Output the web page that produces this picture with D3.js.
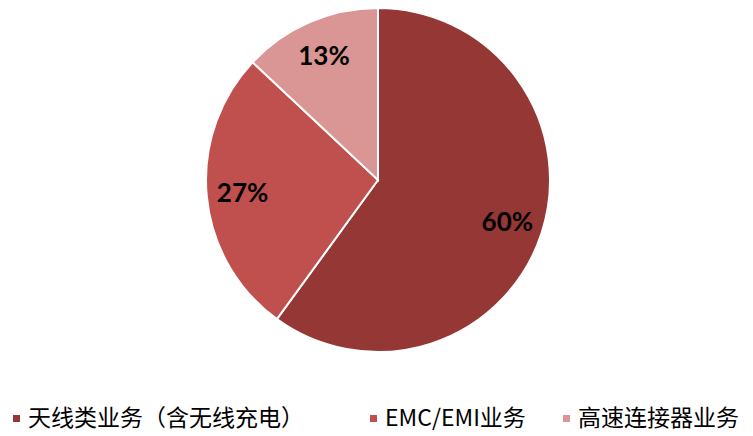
<!DOCTYPE html>
<html>
<head>
<meta charset="utf-8">
<script src="https://d3js.org/d3.v7.min.js"></script>
<style>
  body { margin: 0; background: #fff; }
</style>
</head>
<body>
<div id="chart"></div>
<script>
var categories = ["天线类业务（含无线充电）", "EMC/EMI业务", "高速连接器业务"];
var values = [60, 27, 13];
var colors = ["#953735", "#C0504D", "#D99694"];

var width = 753, height = 436;
var cx = 378, cy = 180, radius = 172;

var svg = d3.select("#chart")
    .append("svg")
    .attr("width", width)
    .attr("height", height);

var g = svg.append("g")
    .attr("transform", "translate(" + cx + "," + cy + ")");

var pie = d3.pie().sort(null).value(function (d) { return d; });
var arc = d3.arc().innerRadius(0).outerRadius(radius);
var labelArc = d3.arc().innerRadius(136).outerRadius(136);

var arcs = pie(values);

g.selectAll("path.slice")
    .data(arcs)
    .enter()
    .append("path")
    .attr("class", "slice")
    .attr("d", arc)
    .attr("fill", function (d, i) { return colors[i]; })
    .attr("stroke", "#fff")
    .attr("stroke-width", 2);

g.selectAll("text.pct")
    .data(arcs)
    .enter()
    .append("text")
    .attr("class", "pct")
    .attr("transform", function (d) { return "translate(" + labelArc.centroid(d) + ")"; })
    .attr("text-anchor", "middle")
    .attr("dy", "0.36em")
    .style("font-family", "Lato, 'Open Sans', sans-serif")
    .style("font-weight", "bold")
    .style("font-size", "26px")
    .style("fill", "#000")
    .text(function (d) { return d.data + "%"; });

// legend
var legendX = [13, 370, 563];
var legend = svg.append("g")
    .selectAll("g.leg")
    .data(categories)
    .enter()
    .append("g")
    .attr("class", "leg")
    .attr("transform", function (d, i) { return "translate(" + legendX[i] + ",418)"; });

legend.append("rect")
    .attr("x", 0)
    .attr("y", -3)
    .attr("width", 7)
    .attr("height", 7)
    .attr("fill", function (d, i) { return colors[i]; });

legend.append("text")
    .attr("x", 15)
    .attr("dy", "0.36em")
    .style("font-family", "'Noto Sans CJK SC', sans-serif")
    .style("font-size", "23px")
    .style("fill", "#000")
    .text(function (d) { return d; });
</script>
</body>
</html>
